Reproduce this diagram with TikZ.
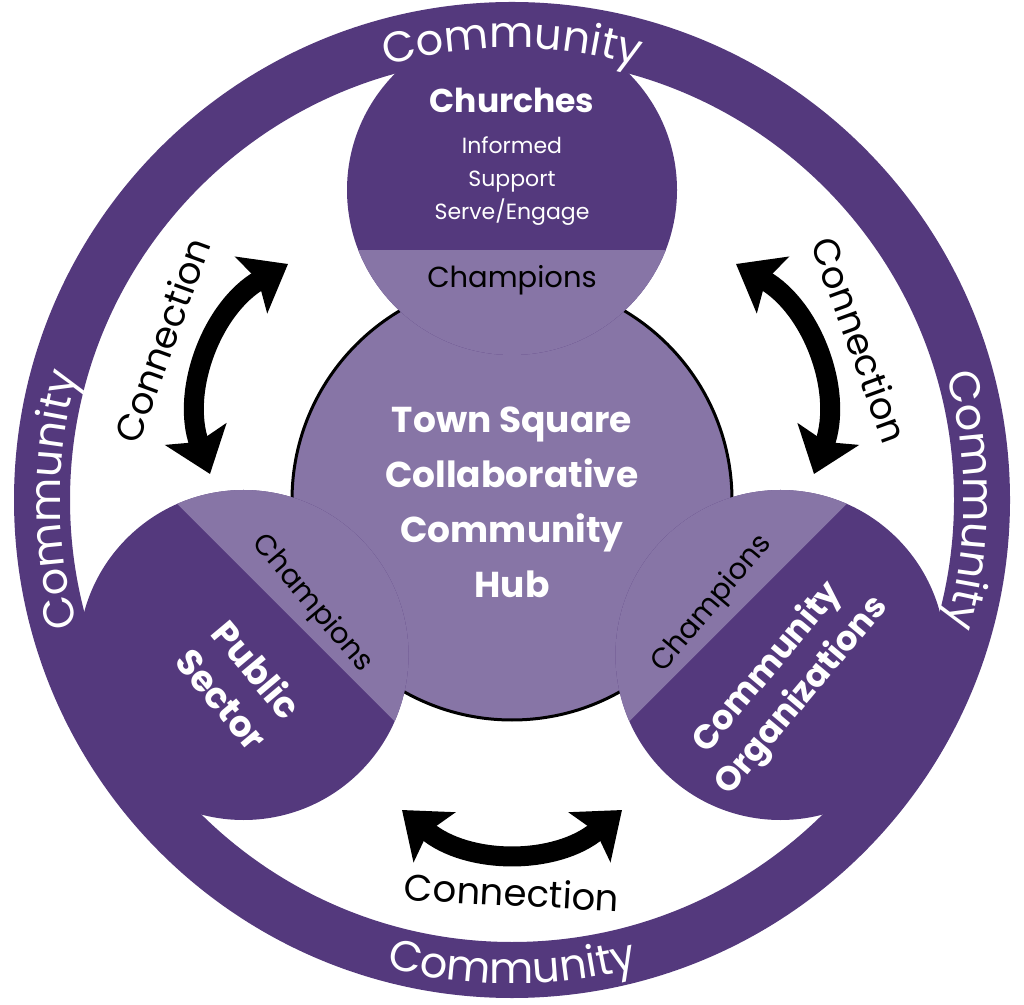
\documentclass[tikz,border=0pt]{standalone}
\usepackage{fontspec}
\setmainfont{Poppins}
\usetikzlibrary{decorations.text,arrows.meta,calc}
\definecolor{dk}{RGB}{84,57,125}
\definecolor{lt}{RGB}{135,117,166}
\begin{document}
\begin{tikzpicture}[x=1pt,y=1pt,
  wt/.style={text=white,font=\fontsize{36}{50}\selectfont\bfseries,align=center},
  ch/.style={font=\fontsize{29}{32}\selectfont},
  con/.style={font=\fontsize{37}{40}\selectfont},
  arr/.style={line width=20pt,{Stealth[length=42pt,width=64pt,inset=8pt]}-{Stealth[length=42pt,width=64pt,inset=8pt]}},
  comm/.style={decorate,decoration={text along path,text align=center,text={|\fontsize{43}{43}\selectfont\color{white}|Community}}}]
\useasboundingbox (0,0) rectangle (1024,1004);
\coordinate (C) at (512,504);
% hub
\fill[lt,draw=black,line width=3pt] (C) circle (220);
% satellites
\foreach \a/\r in {90/0,210/135,330/225}{
  \begin{scope}[shift={($(C)+(\a:310)$)},rotate=\r]
    \fill[dk] (0,0) circle (165);
    \clip (0,0) circle (165);
    \fill[lt] (-200,-60) rectangle (200,-200);
  \end{scope}}
% ring
\fill[dk,even odd rule] (C) circle (498) (C) circle (442);
\path[comm] ($(C)+(150:452)$) arc[start angle=150,end angle=30,radius=452];
\path[comm] ($(C)+(35:452)$) arc[start angle=35,end angle=-35,radius=452];
\path[comm] ($(C)+(215:452)$) arc[start angle=215,end angle=145,radius=452];
\path[comm] ($(C)+(235:484)$) arc[start angle=235,end angle=305,radius=484];
\node[wt,font=\fontsize{36}{55}\selectfont\bfseries] (hub) at (512,502) {Town Square\\Collaborative\\Community\\Hub};
\node[wt,font=\fontsize{33}{36}\selectfont\bfseries] (chu) at (512,904) {Churches};
\node[text=white,font=\fontsize{22}{33}\selectfont,align=center] (chl) at (512,823) {Informed\\Support\\Serve/Engage};
\node[ch] (c1) at (512,724) {Champions};
\node[ch,rotate=-50] (c2) at (312,400) {Champions};
\node[ch,rotate=50] (c3) at (712,400) {Champions};
\node[wt,rotate=-50,font=\fontsize{36}{46}\selectfont\bfseries] (ps) at (240,320) {Public\\Sector};
\node[wt,rotate=50,font=\fontsize{34}{44}\selectfont\bfseries] (co) at (785,322) {Community\\Organizations};
% arrows
\coordinate (l1) at (288,740); \coordinate (l2) at (210,530);
\coordinate (r1) at (736,740); \coordinate (r2) at (814,530);
\coordinate (b1) at (402,194); \coordinate (b2) at (622,194);
\draw[arr] (l1) to[bend right=40] (l2);
\draw[arr] (r1) to[bend left=40] (r2);
\draw[arr] (b1) to[bend right=40] (b2);
\node[con,rotate=70] (cl) at (162,664) {Connection};
\node[con,rotate=-70] (cr) at (860,664) {Connection};
\node[con,rotate=-3] (cb) at (512,112) {Connection};
\end{tikzpicture}
\end{document}
